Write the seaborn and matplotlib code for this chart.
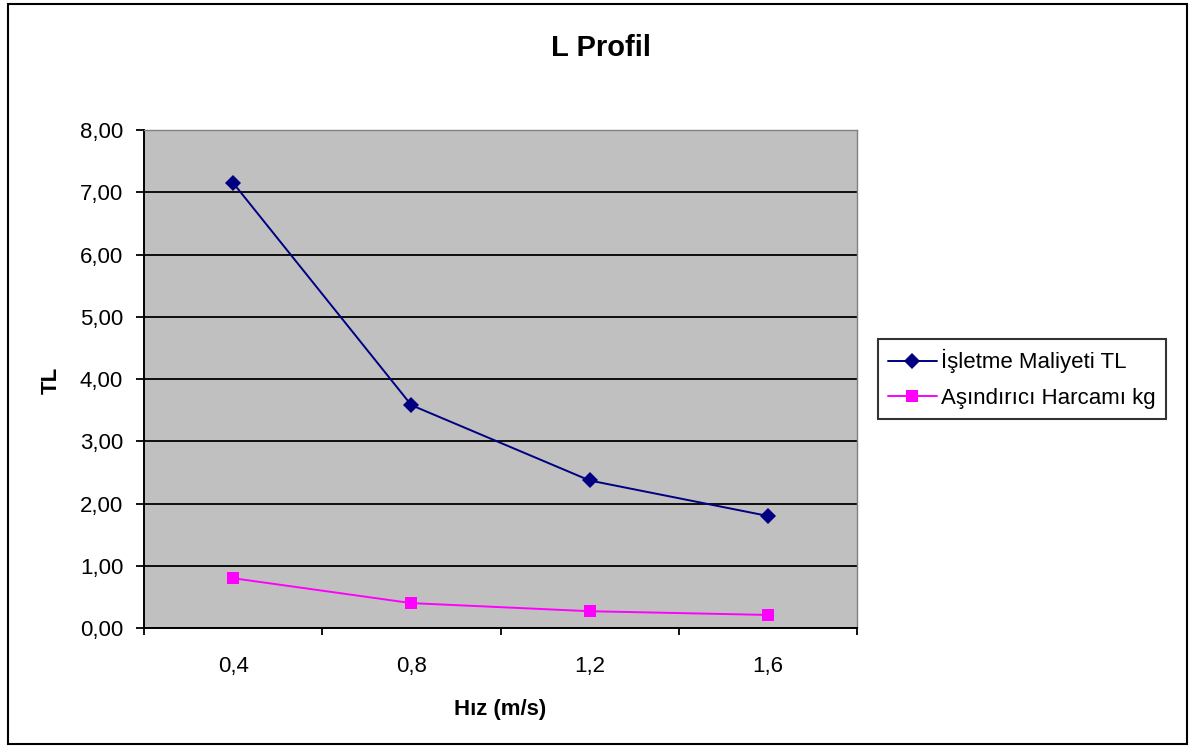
import matplotlib
matplotlib.use("Agg")
import matplotlib.pyplot as plt
from matplotlib.patches import Rectangle
from matplotlib.ticker import FixedLocator, NullFormatter
import seaborn as sns
import pandas as pd

# Chart data
speeds = ["0,4", "0,8", "1,2", "1,6"]
operating_cost = [7.15, 3.58, 2.37, 1.80]
abrasive_use = [0.80, 0.40, 0.27, 0.21]
series_names = ["İşletme Maliyeti TL", "Aşındırıcı Harcamı kg"]
y_ticks = [0, 1, 2, 3, 4, 5, 6, 7, 8]

sns.set_theme(style="white")
plt.rcParams["font.family"] = ["Liberation Sans", "DejaVu Sans"]
for key in ["text.color", "axes.labelcolor", "xtick.color", "ytick.color"]:
    plt.rcParams[key] = "black"

df = pd.DataFrame({
    "pos": list(range(len(speeds))) * 2,
    "value": operating_cost + abrasive_use,
    "series": [series_names[0]] * len(speeds) + [series_names[1]] * len(speeds),
})

fig = plt.figure(figsize=(11.93, 7.48), dpi=100)
ax = fig.add_axes([0.1207, 0.1604, 0.5977, 0.6658])
ax.set_facecolor("#C0C0C0")

# Outer chart frame
fig.patches.append(Rectangle((0.007, 0.006), 0.988, 0.988, transform=fig.transFigure,
                             fill=False, edgecolor="black", linewidth=1.5))

palette = {series_names[0]: "#000080", series_names[1]: "#FF00FF"}
markers = {series_names[0]: "D", series_names[1]: "s"}
sns.lineplot(data=df, x="pos", y="value", hue="series", style="series",
             palette=palette, markers=markers, dashes=False, markersize=8,
             markeredgewidth=0, linewidth=1.4, ax=ax, legend=True)

ax.set_xlim(-0.5, len(speeds) - 0.5)
ax.set_ylim(0, 8)
ax.set_yticks(y_ticks)
ax.set_yticklabels([f"{v:.2f}".replace(".", ",") for v in y_ticks], fontsize=16)
ax.yaxis.grid(True, color="black", linewidth=1.3)
ax.set_axisbelow(True)

# Category boundaries carry the tick marks, labels sit at category centres
ax.xaxis.set_major_locator(FixedLocator([i - 0.5 for i in range(len(speeds) + 1)]))
ax.xaxis.set_major_formatter(NullFormatter())
ax.xaxis.set_minor_locator(FixedLocator(list(range(len(speeds)))))
ax.set_xticklabels(speeds, minor=True, fontsize=16)
ax.tick_params(axis="x", which="major", direction="out", length=5, width=1.3,
               color="black", bottom=True)
ax.tick_params(axis="x", which="minor", length=0, pad=20)
ax.tick_params(axis="y", direction="out", length=6, width=1.3, color="black",
               left=True, pad=9)

for side in ["left", "bottom"]:
    ax.spines[side].set_color("black")
    ax.spines[side].set_linewidth(1.4)
for side in ["top", "right"]:
    ax.spines[side].set_color("#808080")
    ax.spines[side].set_linewidth(1.0)

ax.set_xlabel("")
ax.set_ylabel("")
fig.text(500 / 1193, 1 - 710 / 748, "Hız (m/s)", fontsize=16, fontweight="bold",
         ha="center", va="center")
fig.text(51 / 1193, 1 - 380 / 748, "TL", fontsize=16, fontweight="bold",
         ha="center", va="center", rotation=90)
fig.text(601 / 1193, 1 - 48 / 748, "L Profil", fontsize=21, fontweight="bold",
         ha="center", va="center")

leg = ax.legend(loc="center left", bbox_to_anchor=(1.029, 0.5), borderaxespad=0,
                fontsize=16, frameon=True, fancybox=False, handlelength=2.2,
                handletextpad=0.2, borderpad=0.45, labelspacing=0.65)
leg.get_frame().set_edgecolor("black")
leg.get_frame().set_linewidth(1.5)
leg.set_title(None)

fig.savefig("out.png", dpi=100, facecolor="white")
